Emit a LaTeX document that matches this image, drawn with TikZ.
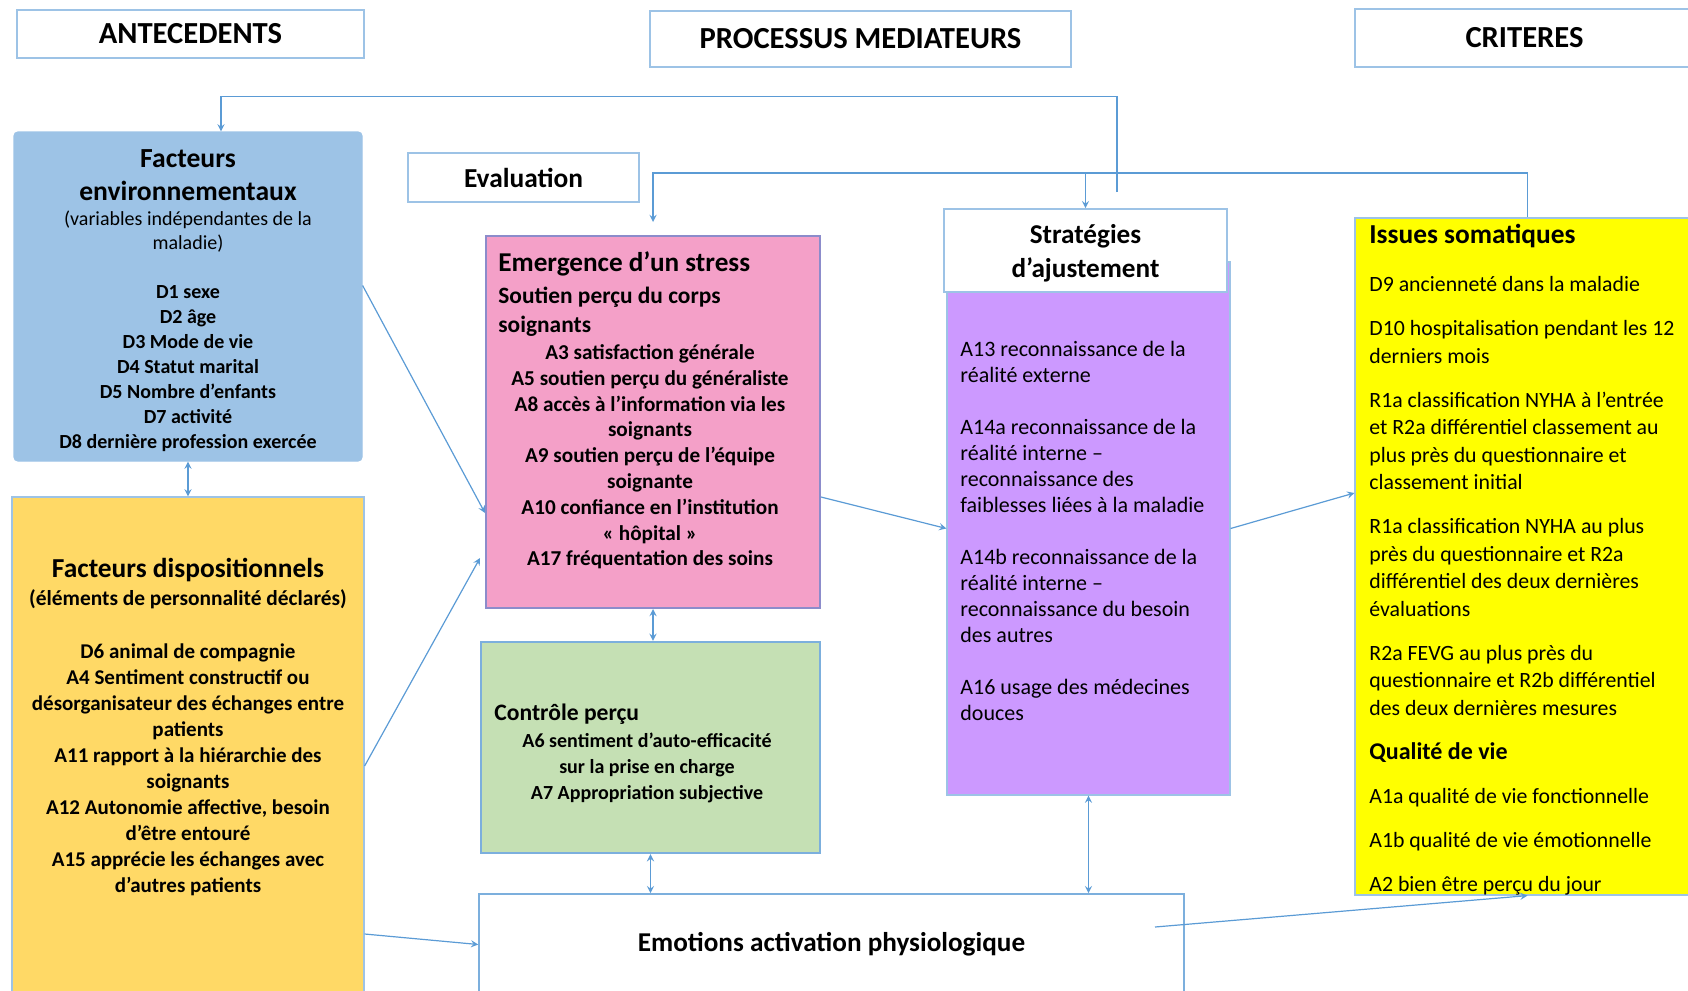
\documentclass[tikz,border=0pt]{standalone}
\usepackage{fontspec}
\setmainfont{Carlito}
\usetikzlibrary{calc,fit}
\definecolor{lnk}{HTML}{5B9BD5}
\definecolor{hdrline}{HTML}{9DC3E6}
\definecolor{envfill}{HTML}{9DC3E6}
\definecolor{dispfill}{HTML}{FFD966}
\definecolor{stressfill}{HTML}{F4A0C8}
\definecolor{stressline}{HTML}{8C8CCB}
\definecolor{ctrlfill}{HTML}{C5E0B4}
\definecolor{adjfill}{HTML}{CC99FF}
\definecolor{somfill}{HTML}{FFFF00}
\newcommand{\fsz}[2]{\fontsize{#1}{#2}\selectfont}

\begin{document}
\begin{tikzpicture}[x=0.5pt,y=-0.5pt,
  link/.style={lnk,line width=0.6pt},
  hdr/.style={draw=hdrline,line width=0.8pt,fill=white,inner sep=0pt},
  htxt/.style={inner sep=0pt,font=\fsz{15.3}{18}\bfseries},
  panel/.style={draw=hdrline,line width=0.6pt,inner sep=0pt},
  txt/.style={inner sep=0pt}]
\useasboundingbox (0,0) rectangle (1688,991);
\clip (0,0) rectangle (1688,991);

% titres des colonnes
\node[hdr,fit={(17,10)(364,58)}] (ant) {};
\node[htxt] (antT) at (ant) {ANTECEDENTS};
\node[hdr,fit={(650,11)(1071,67)}] (proc) {};
\node[htxt] (procT) at (proc) {PROCESSUS MEDIATEURS};
\node[hdr,fit={(1355,9)(1700,67)}] (crit) {};
\node[htxt] (critT) at ($(crit)+(-3,0)$) {CRITERES};
\node[hdr,fit={(408,153)(639,202)}] (eval) {};
\node[htxt,font=\fsz{13.7}{16}\bfseries] (evalT) at (eval) {Evaluation};

% boites
\node[panel,fill=envfill,rounded corners=2pt,fit={(14,132)(362,461)}] (env) {};
\node[panel,fill=dispfill,fit={(12,497)(364,1000)}] (disp) {};
\node[panel,fill=stressfill,draw=stressline,line width=1pt,fit={(486,236)(820,608)}] (stress) {};
\node[panel,fill=ctrlfill,draw=lnk!80,line width=1.2pt,fit={(481,642)(820,853)}] (ctrl) {};
\node[panel,fill=white,draw=lnk!80,line width=0.8pt,fit={(479,894)(1184,995)}] (emo) {};
\node[htxt,font=\fsz{13.6}{16}\bfseries] (emoT) at (emo) {Emotions activation physiologique};
\node[panel,fill=adjfill,fit={(947,262)(1230,795)}] (adj) {};
\node[hdr,fit={(944,209)(1227,292)}] (strat) {};
\node[htxt,align=center,font=\fsz{13.6}{17.2}\bfseries] (stratT) at ($(strat)+(0,3)$) {Stratégies\\d’ajustement};
\node[panel,fill=somfill,fit={(1355,218)(1700,895)}] (som) {};

% textes
\node[txt,align=center,font=\fsz{13.8}{16.7}\bfseries] (envT) at (188,175) {Facteurs\\environnementaux};
\node[txt,align=center,font=\fsz{10}{12}] (envS) at (188,232) {(variables indépendantes de la\\maladie)};
\node[txt,align=center,font=\fsz{10}{12.5}\bfseries] (envL) at (188,369) {D1 sexe\\D2 âge\\D3 Mode de vie\\D4 Statut marital\\D5 Nombre d’enfants\\D7 activité\\D8 dernière profession exercée};

\node[txt,font=\fsz{13.7}{16}\bfseries] (dispT) at (188,570) {Facteurs dispositionnels};
\node[txt,font=\fsz{10.7}{13}\bfseries] (dispS) at (188,599) {(éléments de personnalité déclarés)};
\node[txt,align=center,font=\fsz{10.5}{13}\bfseries] (dispL) at (188,770) {D6 animal de compagnie\\A4 Sentiment constructif ou\\désorganisateur des échanges entre\\patients\\A11 rapport à la hiérarchie des\\soignants\\A12 Autonomie affective, besoin\\d’être entouré\\A15 apprécie les échanges avec\\d’autres patients};

\node[txt,anchor=west,font=\fsz{13.6}{16}\bfseries] (stressT) at (498,264) {Emergence d’un stress};
\node[txt,anchor=west,align=left,font=\fsz{11.7}{14.5}\bfseries] (stressS) at (498,312) {Soutien perçu du corps\\soignants};
\node[txt,align=center,font=\fsz{10.6}{12.9}\bfseries] (stressL) at (650,457) {A3 satisfaction générale\\A5 soutien perçu du généraliste\\A8 accès à l’information via les\\soignants\\A9 soutien perçu de l’équipe\\soignante\\A10 confiance en l’institution\\«~hôpital~»\\A17 fréquentation des soins};

\node[txt,anchor=west,font=\fsz{11.8}{14}\bfseries] (ctrlT) at (494,714) {Contrôle perçu};
\node[txt,align=center,font=\fsz{10}{12.9}\bfseries] (ctrlL) at (647,768) {A6 sentiment d’auto-efficacité\\sur la prise en charge\\A7 Appropriation subjective};

\node[txt,anchor=west,align=left,font=\fsz{11}{13}] (adjL) at (960,531) {A13 reconnaissance de la\\réalité externe\\[13pt]A14a reconnaissance de la\\réalité interne –\\reconnaissance des\\faiblesses liées à la maladie\\[13pt]A14b reconnaissance de la\\réalité interne –\\reconnaissance du besoin\\des autres\\[13pt]A16 usage des médecines\\douces};

\node[txt,anchor=west,font=\fsz{13.7}{16}\bfseries] (somT) at (1369,236) {Issues somatiques};
\node[txt,anchor=west,align=left,font=\fsz{10.9}{13.75}] (somL) at (1369,586) {D9 ancienneté dans la maladie\\[8.25pt]D10 hospitalisation pendant les 12\\derniers mois\\[8.25pt]R1a classification NYHA à l’entrée\\et R2a différentiel classement au\\plus près du questionnaire et\\classement initial\\[8.25pt]R1a classification NYHA au plus\\près du questionnaire et R2a\\différentiel des deux dernières\\évaluations\\[8.25pt]R2a FEVG au plus près du\\questionnaire et R2b différentiel\\des deux dernières mesures\\[8.25pt]{\fsz{12}{13.75}\bfseries Qualité de vie}\\[8.25pt]A1a qualité de vie fonctionnelle\\[8.25pt]A1b qualité de vie émotionnelle\\[8.25pt]A2 bien être perçu du jour};

% liaisons
\coordinate (loopend) at (1117,192);
\draw[link,-stealth] (loopend) |- ($(env.north)+(33,-35)$) -- ($(env.north)+(33,0)$);
\draw[link,-stealth] (som.north) |- ($(stress.north)+(0,-62)$) -- ($(stress.north)+(0,-13)$);
\draw[link,-stealth] ($(strat.north)+(0,-35)$) -- (strat.north);
\draw[link,stealth-stealth] (env.south) -- (disp.north);
\draw[link,stealth-stealth] (stress.south) -- (stress.south |- ctrl.north);
\draw[link,stealth-stealth] (ctrl.south) -- (ctrl.south |- emo.north);
\draw[link,stealth-stealth] (adj.south) -- (adj.south |- emo.north);
\draw[link,-stealth] ($(env.east)+(0,-11)$) -- ($(stress.west)+(0,91)$);
\draw[link,-stealth] ($(disp.east)+(0,17.5)$) -- ($(stress.west)+(-5,136)$);
\draw[link,-stealth] ($(disp.east)+(0,185.5)$) -- (emo.west);
\draw[link,-stealth] ($(stress.east)+(0,75)$) -- (adj.west);
\draw[link,-stealth] (adj.east) -- ($(som.west)+(0,-63.5)$);
\coordinate (emoout) at (1155,927);
\draw[link,-stealth] (emoout) -- (som.south);
\end{tikzpicture}
\end{document}
